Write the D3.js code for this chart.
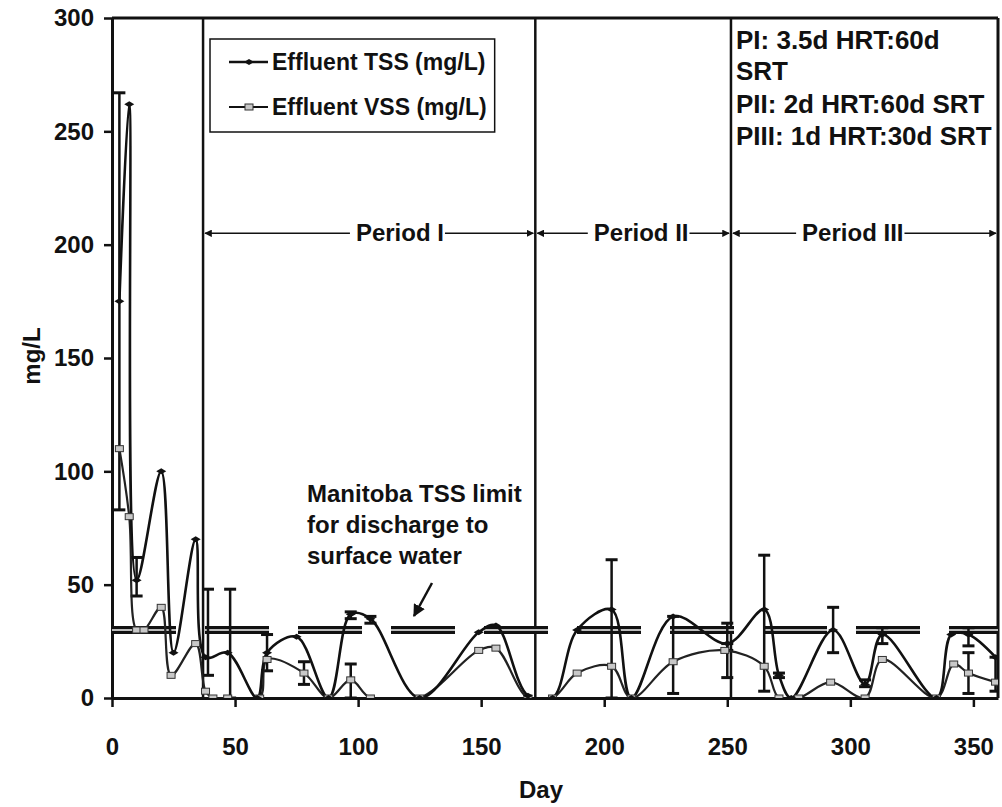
<!DOCTYPE html>
<html>
<head>
<meta charset="utf-8">
<script src="https://cdn.jsdelivr.net/npm/d3@7"></script>
<style>
  html, body { margin: 0; padding: 0; background: #fff; }
  svg text { font-family: "Liberation Sans", Arial, sans-serif; font-weight: bold; fill: #111; }
</style>
</head>
<body>
<svg id="chart" width="1002" height="807"></svg>
<script>
// ---------- data ----------
const tssDay = [3, 7, 10, 20, 25, 34, 38, 47, 59, 63, 75, 88, 97, 105, 125, 149, 156, 169, 179, 189, 203, 211, 228, 250, 265, 271, 276, 293, 306, 313, 335, 341, 348, 359];
const tssVal = [175, 262, 52, 100, 20, 70, 18, 20, 0, 20, 27, 0, 37, 35, 0, 29, 32, 1, 0, 30, 39, 0, 36, 24, 39, 10, 0, 30, 6, 28, 0, 28, 28, 18];

const vssDay = [3, 7, 10, 13, 20, 24, 34, 38, 41, 47, 60, 63, 78, 88, 97, 105, 125, 149, 156, 169, 179, 189, 203, 211, 228, 249, 265, 271, 279, 292, 306, 313, 335, 342, 348, 359];
const vssVal = [110, 80, 30, 30, 40, 10, 24, 3, 0, 0, 0, 17, 11, 0, 8, 0, 0, 21, 22, 0, 0, 11, 14, 0, 16, 21, 14, 0, 0, 7, 0, 17, 0, 15, 11, 7];

// error bars (day, upper, lower)
const errDay    = [3,   10, 39, 48, 63, 78, 97, 97, 105, 203, 228, 250, 250, 265, 271, 293, 306, 313, 348, 348, 359];
const errUpper  = [267, 62, 48, 48, 28, 16, 15, 38, 36,  61,  36,  33,  24,  63,  11,  40,  8,   31,  31,  20,  18];
const errLower  = [83,  45, 10, 0,  12, 6,  0,  35, 33,  0,   2,   21,  9,   3,   9,   20,  5,   24,  23,  2,   3];

const periodStart = [37, 172, 251.5];
const periodEnd   = [172, 251.5, 360];
const periodLabels = ["Period I", "Period II", "Period III"];
const periodLabelDay = [117, 215, 301];
const periodArrowValue = 205;

const limitValue = 30;
const limitText = ["Manitoba TSS limit", "for discharge to", "surface water"];
const condText = ["PI: 3.5d HRT:60d", "SRT", "PII: 2d HRT:60d SRT", "PIII: 1d HRT:30d SRT"];

const xTicks = [0, 50, 100, 150, 200, 250, 300, 350];
const yTicks = [0, 50, 100, 150, 200, 250, 300];
const seriesNames = ["Effluent TSS (mg/L)", "Effluent VSS (mg/L)"];

// ---------- layout ----------
const pL = 112, pT = 18, pR = 998, pB = 698;
const svg = d3.select("#chart");

const x = d3.scaleLinear().domain([0, 360]).range([pL, pR]);
const y = d3.scaleLinear().domain([0, 300]).range([pB, pT]);

const defs = svg.append("defs");
defs.append("clipPath").attr("id", "plotclip")
  .append("rect").attr("x", pL).attr("y", pT).attr("width", pR - pL).attr("height", pB - pT);
defs.append("marker").attr("id", "ah").attr("viewBox", "0 0 10 10").attr("refX", 9).attr("refY", 5)
  .attr("markerWidth", 5).attr("markerHeight", 5).attr("orient", "auto-start-reverse")
  .append("path").attr("d", "M0,0 L10,5 L0,10 z").attr("fill", "#111");

// ---------- axes ----------
const xAxis = d3.axisBottom(x).tickValues(xTicks).tickSize(9).tickSizeOuter(0).tickPadding(31);
const yAxis = d3.axisLeft(y).tickValues(yTicks).tickSize(8).tickSizeOuter(0).tickPadding(10);

const gx = svg.append("g").attr("transform", `translate(0,${pB})`).call(xAxis);
const gy = svg.append("g").attr("transform", `translate(${pL},0)`).call(yAxis);
[gx, gy].forEach(g => {
  g.select(".domain").attr("stroke", "#111").attr("stroke-width", 3);
  g.selectAll(".tick line").attr("stroke", "#111").attr("stroke-width", 2.5);
  g.selectAll(".tick text").style("font-size", "24px").style("font-family", "Liberation Sans, Arial, sans-serif").style("font-weight", "bold").attr("fill", "#111");
});

// frame top & right
svg.append("line").attr("x1", pL).attr("x2", pR).attr("y1", pT).attr("y2", pT).attr("stroke", "#111").attr("stroke-width", 3);
svg.append("line").attr("x1", pR).attr("x2", pR).attr("y1", pT).attr("y2", pB).attr("stroke", "#111").attr("stroke-width", 3);

// axis titles
svg.append("text").attr("x", 541).attr("y", 798).attr("text-anchor", "middle")
  .style("font-size", "24px").text("Day");
svg.append("text").attr("transform", `translate(40,${(pT + pB) / 2 - 2}) rotate(-90)`).attr("text-anchor", "middle")
  .style("font-size", "24px").text("mg/L");

// ---------- period lines ----------
const plot = svg.append("g").attr("clip-path", "url(#plotclip)");
plot.selectAll(".pline").data(periodStart).join("line")
  .attr("x1", d => x(d)).attr("x2", d => x(d)).attr("y1", pT).attr("y2", pB)
  .attr("stroke", "#111").attr("stroke-width", 2.5);

// limit line (double)
plot.append("line").attr("x1", x(0)).attr("x2", x(360)).attr("y1", y(limitValue)).attr("y2", y(limitValue))
  .attr("stroke", "#111").attr("stroke-width", 8).attr("stroke-dasharray", "64,29");
plot.append("line").attr("x1", x(0)).attr("x2", x(360)).attr("y1", y(limitValue)).attr("y2", y(limitValue))
  .attr("stroke", "#bbb").attr("stroke-width", 2).attr("stroke-dasharray", "64,29");

// ---------- series ----------
const curve = d3.curveCatmullRom.alpha(0.5);
const line = d3.line().x(d => x(d[0])).y(d => y(d[1])).curve(curve);
const tss = tssDay.map((d, i) => [d, tssVal[i]]);
const vss = vssDay.map((d, i) => [d, vssVal[i]]);

// error bars
const eb = plot.append("g");
errDay.forEach((d, i) => {
  eb.append("line").attr("x1", x(d)).attr("x2", x(d)).attr("y1", y(errUpper[i])).attr("y2", y(errLower[i]))
    .attr("stroke", "#111").attr("stroke-width", 2.5);
  [errUpper[i], errLower[i]].forEach(v => {
    eb.append("line").attr("x1", x(d) - 6).attr("x2", x(d) + 6).attr("y1", y(v)).attr("y2", y(v))
      .attr("stroke", "#111").attr("stroke-width", 3);
  });
});

plot.append("path").datum(vss).attr("d", line).attr("fill", "none").attr("stroke", "#222").attr("stroke-width", 2.2);
plot.append("path").datum(tss).attr("d", line).attr("fill", "none").attr("stroke", "#111").attr("stroke-width", 2.6);

plot.selectAll(".vm").data(vss).join("rect")
  .attr("x", d => x(d[0]) - 4).attr("y", d => y(d[1]) - 3).attr("width", 8).attr("height", 6)
  .attr("fill", "#c8c8c8").attr("stroke", "#333").attr("stroke-width", 1);
plot.selectAll(".tm").data(tss).join("path")
  .attr("transform", d => `translate(${x(d[0])},${y(d[1])})`)
  .attr("d", "M-5,0 L0,-3 L5,0 L0,3 Z").attr("fill", "#111");

// ---------- period arrows ----------
const pa = svg.append("g");
const arrowY = y(periodArrowValue);
periodStart.forEach((s, i) => {
  const e = periodEnd[i];
  const cx = x(periodLabelDay[i]);
  const t = pa.append("text").attr("x", cx).attr("y", arrowY + 8).attr("text-anchor", "middle")
    .style("font-size", "24px").text(periodLabels[i]);
  const w = t.node().getComputedTextLength();
  pa.append("line").attr("x1", cx - w / 2 - 6).attr("x2", x(s) + 2).attr("y1", arrowY).attr("y2", arrowY)
    .attr("stroke", "#111").attr("stroke-width", 1.5).attr("marker-end", "url(#ah)");
  pa.append("line").attr("x1", cx + w / 2 + 1).attr("x2", x(e) - 2).attr("y1", arrowY).attr("y2", arrowY)
    .attr("stroke", "#111").attr("stroke-width", 1.5).attr("marker-end", "url(#ah)");
});

// ---------- annotations ----------
const an = svg.append("g");
limitText.forEach((t, i) => {
  an.append("text").attr("x", 307).attr("y", 502 + i * 31).style("font-size", "24px").text(t);
});
an.append("line").attr("x1", 432).attr("y1", 583).attr("x2", 414).attr("y2", 616)
  .attr("stroke", "#111").attr("stroke-width", 2.5).attr("marker-end", "url(#ah)");

condText.forEach((t, i) => {
  an.append("text").attr("x", x(periodStart[2]) + 5).attr("y", [49, 80, 113, 145][i]).style("font-size", "26px").text(t);
});

// ---------- legend ----------
const lg = svg.append("g");
const lgText = [];
seriesNames.forEach((n, i) => {
  const yy = 62 + i * 45;
  lg.append("line").attr("x1", 229).attr("x2", 268).attr("y1", yy).attr("y2", yy)
    .attr("stroke", "#111").attr("stroke-width", i === 0 ? 2.6 : 2.2);
  if (i === 0) {
    lg.append("path").attr("transform", `translate(249,${yy})`).attr("d", "M-5,0 L0,-3 L5,0 L0,3 Z").attr("fill", "#111");
  } else {
    lg.append("rect").attr("x", 245).attr("y", yy - 3).attr("width", 8).attr("height", 6)
      .attr("fill", "#c8c8c8").attr("stroke", "#333").attr("stroke-width", 1);
  }
  lgText.push(lg.append("text").attr("x", 272).attr("y", yy + 8).style("font-size", "23px").text(n));
});
const lgW = d3.max(lgText, t => t.node().getComputedTextLength());
lg.insert("rect", ":first-child").attr("x", 210).attr("y", 39).attr("width", 272 + lgW + 8 - 210).attr("height", 93)
  .attr("fill", "#fff").attr("stroke", "#111").attr("stroke-width", 1.5);
</script>
</body>
</html>
